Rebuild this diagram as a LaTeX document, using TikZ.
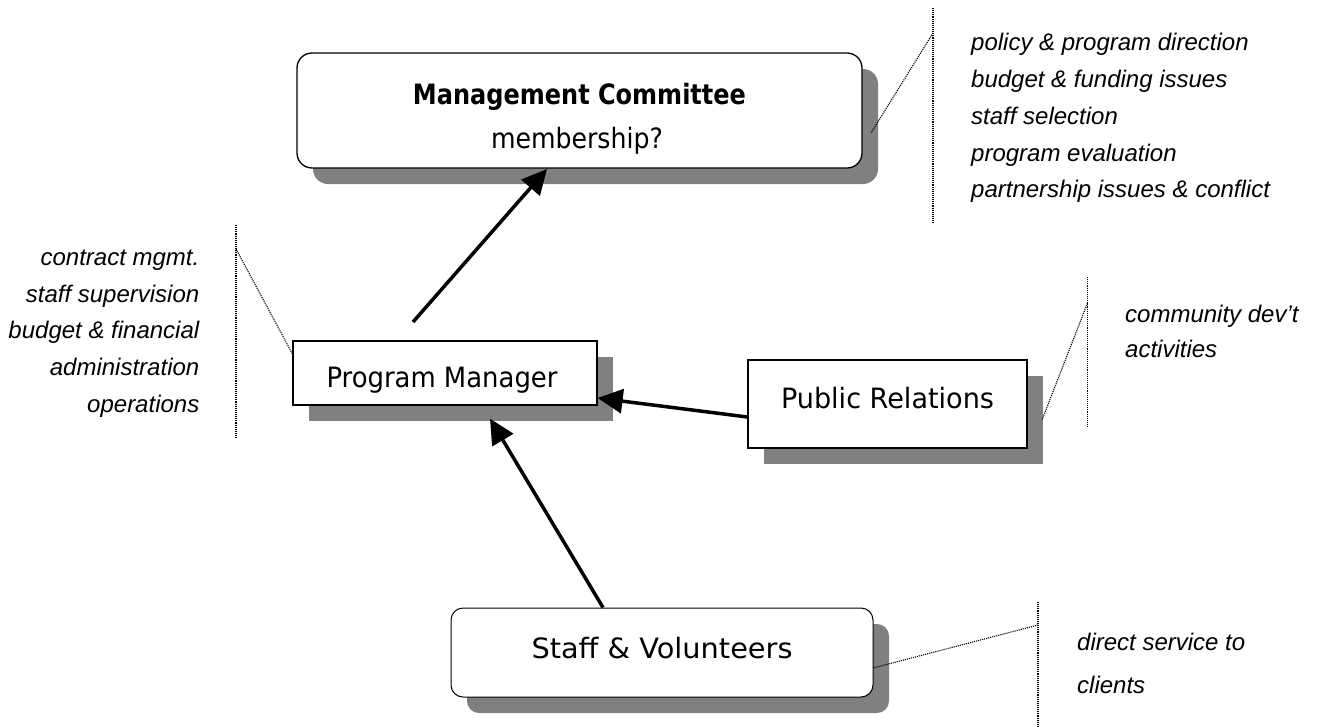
\documentclass[tikz,border=0pt]{standalone}
\usepackage{fontspec}
\setmainfont{Liberation Sans}
\newfontfamily\boxfont{DejaVu Sans}
\usetikzlibrary{arrows.meta,shadows}
\definecolor{shadowgray}{RGB}{128,128,128}
\newcommand\wfit[2]{\resizebox{#1}{\height}{#2}}
\begin{document}
\begin{tikzpicture}[x=1pt,y=-1pt,
  box/.style={draw=black, line width=1.3pt, fill=white, inner sep=0pt,
    drop shadow={shadow xshift=16pt, shadow yshift=-16pt, fill=shadowgray, opacity=1}},
  btext/.style={font=\boxfont\fontsize{28}{30}\selectfont, inner sep=0pt},
  itext/.style={font=\itshape\fontsize{24}{28}\selectfont, inner sep=0pt},
  callout/.style={line width=1.1pt, dash pattern=on 1.1pt off 1pt},
  arr/.style={line width=3.5pt, -{Triangle[length=25pt,width=24pt]}}]
\fill[white] (0,0) rectangle (1318,726);
\useasboundingbox (0,0) rectangle (1318,726);

% boxes
\node[box, rounded corners=15pt, minimum width=565pt, minimum height=115pt] (MC) at (579.5,110.5) {};
\node[box, minimum width=304pt, minimum height=64pt] (PM) at (445,373) {};
\node[box, minimum width=279pt, minimum height=88pt] (PR) at (887.5,404) {};
\node[box, rounded corners=12pt, line width=1pt, minimum width=422pt, minimum height=89pt] (SV) at (662,652.5) {};

% box texts
\node[btext, anchor=base] (MCt1) at (579.5,104) {\wfit{333pt}{\bfseries Management Committee}};
\node[btext, anchor=base] (MCt2) at (577,148) {\wfit{172pt}{membership?}};
\node[btext, anchor=base] (PMt) at (442,387) {\wfit{231pt}{Program Manager}};
\node[btext, anchor=base] (PRt) at (887.5,408) {\wfit{213pt}{Public Relations}};
\node[btext, anchor=base] (SVt) at (662,658) {\wfit{261pt}{Staff \& Volunteers}};

% arrows
\coordinate (a1s) at (413,322);
\coordinate (a1e) at (547,169);
\draw[arr] (a1s) -- (a1e);
\draw[arr] ([yshift=-13pt]PR.west) -- ([yshift=-25pt]PM.east);
\draw[arr] ([xshift=-59pt]SV.north) -- ([xshift=45pt,yshift=-13pt]PM.south);

% callouts: Management Committee
\coordinate (c1t) at (933,8);
\coordinate (c1b) at (933,223);
\coordinate (c1k) at (933,33);
\coordinate (c1e) at (871,133);
\draw[callout] (c1t) -- (c1b);
\draw[callout] (c1k) -- (c1e);
\node[itext, anchor=base west] (m1) at (971,50) {policy \& program direction};
\node[itext, anchor=base west] (m2) at (971,87) {budget \& funding issues};
\node[itext, anchor=base west] (m3) at (971,124) {staff selection};
\node[itext, anchor=base west] (m4) at (971,161) {program evaluation};
\node[itext, anchor=base west] (m5) at (971,197) {partnership issues \& conflict};

% callouts: Program Manager
\coordinate (c2t) at (236,225);
\coordinate (c2b) at (236,438);
\coordinate (c2k) at (236,249);
\coordinate (c2e) at (293,355);
\draw[callout] (c2t) -- (c2b);
\draw[callout] (c2k) -- (c2e);
\node[itext, anchor=base east] (p1) at (199.5,265) {contract mgmt.};
\node[itext, anchor=base east] (p2) at (199.5,302) {staff supervision};
\node[itext, anchor=base east] (p3) at (199.5,338) {budget \& financial};
\node[itext, anchor=base east] (p4) at (199.5,375) {administration};
\node[itext, anchor=base east] (p5) at (199.5,412) {operations};

% callouts: Public Relations
\coordinate (c3t) at (1087.5,277);
\coordinate (c3b) at (1087.5,428);
\coordinate (c3k) at (1087.5,303);
\coordinate (c3e) at (1042,420);
\draw[callout] (c3t) -- (c3b);
\draw[callout] (c3k) -- (c3e);
\node[itext, anchor=base west] (r1) at (1125,322) {community dev’t};
\node[itext, anchor=base west] (r2) at (1125,357) {activities};

% callouts: Staff & Volunteers
\coordinate (c4t) at (1038,602);
\coordinate (c4b) at (1038,726);
\coordinate (c4k) at (1038,625);
\coordinate (c4e) at (873,668);
\draw[callout] (c4t) -- (c4b);
\draw[callout] (c4k) -- (c4e);
\node[itext, anchor=base west] (s1) at (1077,650) {direct service to};
\node[itext, anchor=base west] (s2) at (1077,693) {clients};
\end{tikzpicture}
\end{document}
